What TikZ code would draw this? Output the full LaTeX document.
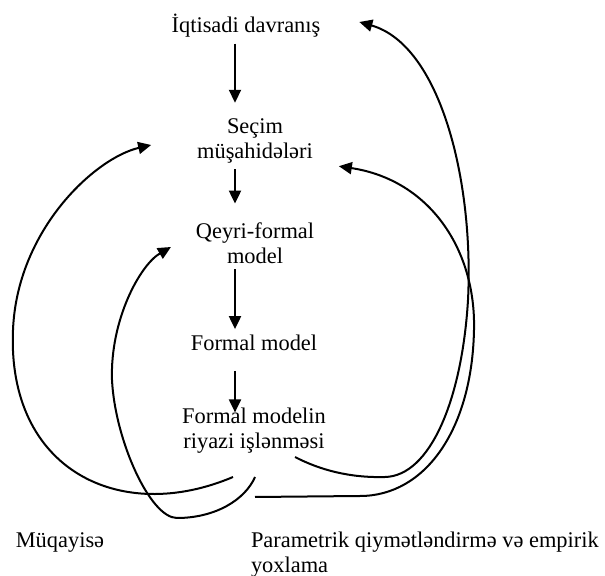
\documentclass[tikz,border=0pt]{standalone}
\usepackage{fontspec}
\setmainfont{Liberation Serif}
\usetikzlibrary{positioning,arrows.meta}
\tikzstyle{st} = [align=center,inner sep=2.5pt]
\tikzstyle{lbl} = [align=left,inner sep=0pt]

\begin{document}
\begin{tikzpicture}[
    ->,
    >={Triangle[length=6.5pt,width=6pt]},
    line width=1pt,
    x=0.5pt, y=-0.5pt,
    font=\fontsize{11.2}{12.4}\selectfont
]
   \useasboundingbox (0,0) rectangle (605,576);

   \node[st] (econ) at (246,26) {İqtisadi davranış};
   \node[st] (sel)  [below of=econ,node distance=57.5pt,xshift=4.5pt] {Seçim\\müşahidələri};
   \node[st] (inf)  [below of=sel,node distance=51pt] {Qeyri-formal\\model};
   \node[st] (form) [below of=inf,node distance=50pt,xshift=-0.5pt] {Formal model};
   \node[st] (math) [below of=form,node distance=44pt] {Formal modelin\\riyazi işlənməsi};

   \node[lbl] (cmp) at (60,543) {Müqayisə};
   \node[lbl,anchor=north west] (est) at (250,531)
        {Parametrik qiymətləndirmə və empirik\\yoxlama};

   % tails under the last box
   \coordinate (cmpa) at (233,477);
   \coordinate (cmpb) at (255,477);
   \coordinate (esta) at (255,497);
   \coordinate (estb) at (295,457);

   \draw[shorten >=5pt] ([xshift=-5.5pt]econ.south) -- ([xshift=-10pt]sel.north);
   \draw[shorten >=6.5pt] ([xshift=-10pt]sel.south) -- ([xshift=-10pt]inf.north);
   \draw ([xshift=-10pt]inf.south) -- ([xshift=-9.5pt]form.north);
   \draw[shorten <=7pt,shorten >=-5pt] ([xshift=-9.5pt]form.south) -- ([xshift=-9.5pt]math.north);

   % comparison loops
   \draw (cmpa) .. controls (120,525) and (7,470) .. (13,330)
                .. controls (17,230) and (95,158) .. ([xshift=-20pt,yshift=-2pt]sel.west);
   \draw (cmpb) .. controls (245,500) and (215,518) .. (177,518)
                .. controls (150,518) and (115,440) .. (112,380)
                .. controls (110,320) and (140,265) .. ([xshift=-9.5pt,yshift=-2pt]inf.west);

   % estimation loops
   \draw (estb) .. controls (320,470) and (350,478) .. (385,477)
                .. controls (430,476) and (462,400) .. (468,300)
                .. controls (474,180) and (440,45) .. ([xshift=16.5pt,yshift=2pt]econ.east);
   \draw (esta) -- (360,496)
                .. controls (425,496) and (472,430) .. (474,330)
                .. controls (476,250) and (430,180) .. ([xshift=10pt,yshift=1.5pt]sel.south east);

\end{tikzpicture}
\end{document}
